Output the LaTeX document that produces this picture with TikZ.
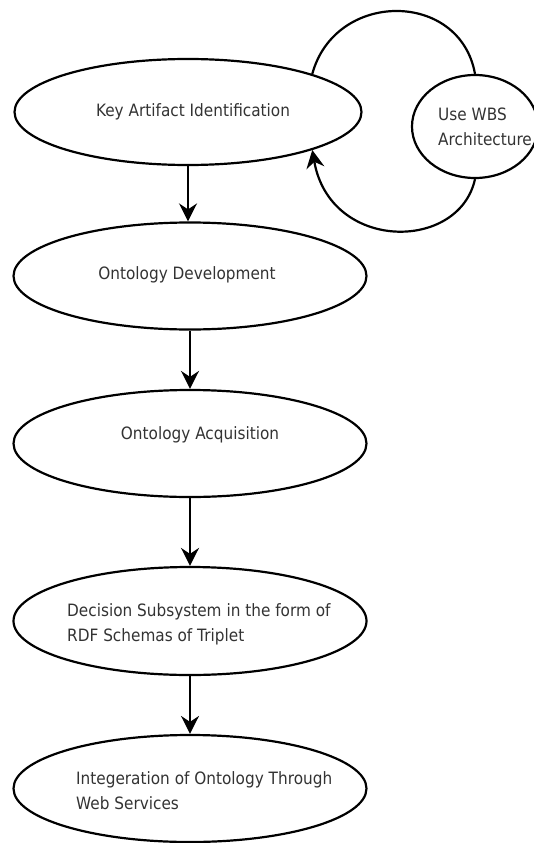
\documentclass[tikz,border=0pt]{standalone}
\usepackage{fontspec}
\setmainfont{DejaVu Sans}[FakeStretch=0.9]
\usetikzlibrary{shapes.geometric,arrows.meta}
\tikzset{
	blob/.style={draw, ellipse, line width=2.2pt, inner sep=0pt},
	txt/.style={text=black!80, font=\fontsize{17}{25}\selectfont, align=left, inner sep=0pt},
	flow/.style={line width=2.2pt, -{Stealth[length=18pt, width=18pt, inset=6pt]}}
}

\begin{document}
\begin{tikzpicture}[x=1pt, y=-1pt]
			%%%%% START %%%%%
			\useasboundingbox (0, 0) rectangle (533, 843);
			
			\node[blob, minimum width=347pt, minimum height=106pt] (key) at (188, 112) {};
			\node[blob, minimum width=353pt, minimum height=107pt] (dev) at (190, 276) {};
			\node[blob, minimum width=353pt, minimum height=107pt] (acq) at (190, 443.5) {};
			\node[blob, minimum width=353pt, minimum height=108pt] (dec) at (190, 621) {};
			\node[blob, minimum width=353pt, minimum height=107pt] (integ) at (190, 788.5) {};
			\node[blob, minimum width=126pt, minimum height=103pt] (wbs) at (475, 126.5) {};
			
			\node[txt] (keytext) at (193, 112) {Key Artifact Identification};
			\node[txt] (devtext) at (187, 275) {Ontology Development};
			\node[txt] (acqtext) at (200, 435) {Ontology Acquisition};
			\node[txt, anchor=west] (dectext) at (67, 624) {Decision Subsystem in the form of\\RDF Schemas of Triplet};
			\node[txt, anchor=west] (integtext) at (76, 791) {Integeration of Ontology Through\\Web Services};
			\node[txt, anchor=west] (wbstext) at (438, 127) {Use WBS\\Architecture};
			
			\draw[flow] (key.south) -- (key.south |- dev.north);
			\draw[flow] (dev.south) -- (dev.south |- acq.north);
			\draw[flow] (acq.south) -- (acq.south |- dec.north);
			\draw[flow] (dec.south) -- (dec.south |- integ.north);
			
			% loop round the WBS step
			\draw[line width=2.2pt] (key.17) .. controls (335, -10) and (460, -10) .. (wbs.north);
			\draw[flow] (wbs.south) .. controls (459, 252) and (330, 252) .. (key.-17);
			%%%%% END %%%%%
		\end{tikzpicture}
\end{document}
